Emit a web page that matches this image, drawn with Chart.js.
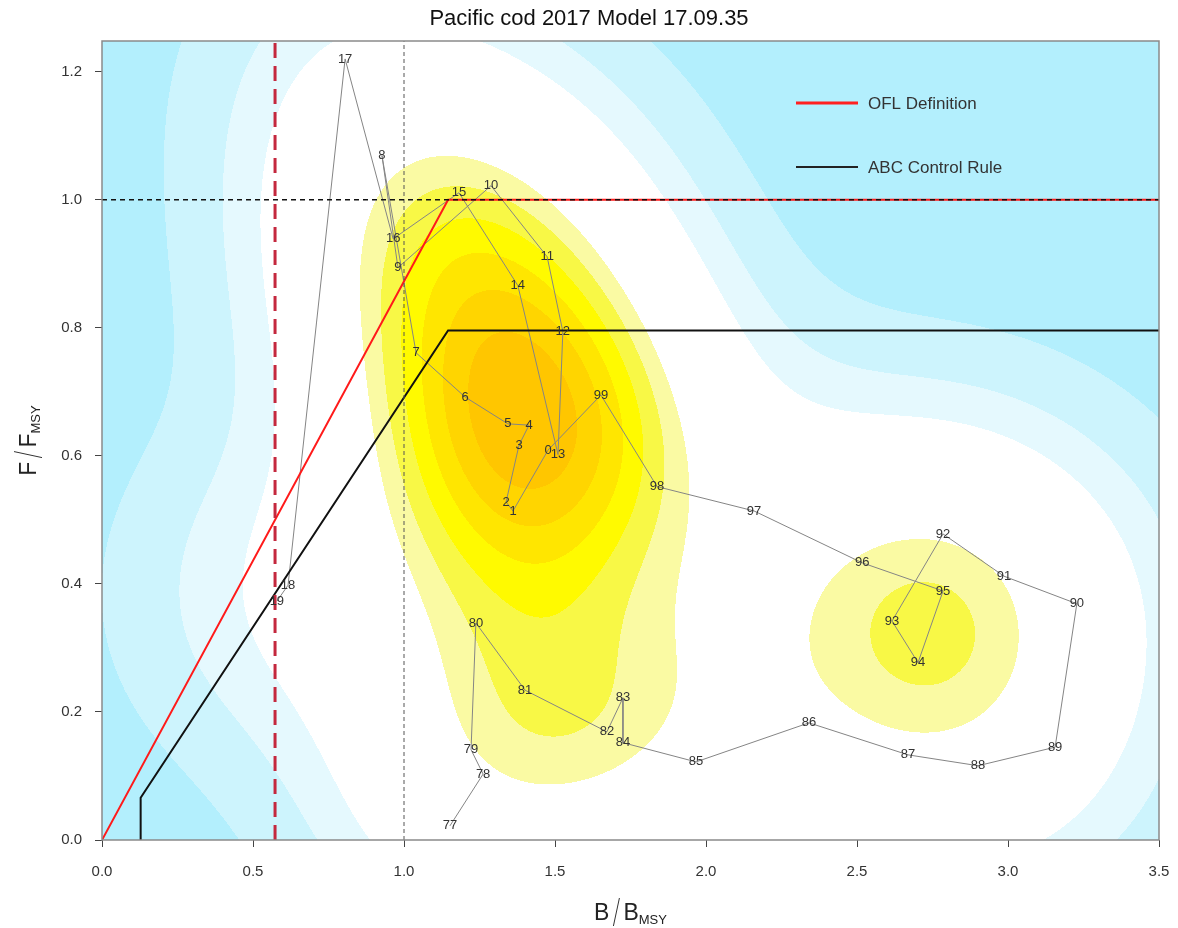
<!DOCTYPE html>
<html>
<head>
<meta charset="utf-8">
<script src="https://cdn.jsdelivr.net/npm/chart.js@4"></script>
<style>
  html, body { margin: 0; padding: 0; background: #fff; overflow: hidden; }
  #wrap { width: 1178px; height: 928px; }
  canvas { display: block; }
</style>
</head>
<body>
<div id="wrap"><canvas id="phase"></canvas></div>
<script>
// year labels (2-digit) in time order, 1977 .. 2019
const years = ['77','78','79','80','81','82','83','84','85','86','87','88','89',
  '90','91','92','93','94','95','96','97','98','99',
  '0','1','2','3','4','5','6','7','8','9','10','11','12','13','14','15','16','17','18','19'];
// B/Bmsy
const bRatio = [1.152,1.262,1.222,1.238,1.401,1.672,1.725,1.725,1.967,2.341,2.669,2.901,3.156,
  3.228,2.987,2.785,2.616,2.702,2.785,2.517,2.159,1.838,1.652,
  1.477,1.361,1.338,1.381,1.414,1.344,1.202,1.040,0.927,0.980,1.288,1.474,1.526,1.510,1.377,1.182,0.964,0.805,0.616,0.579];
// F/Fmsy
const fRatio = [0.022,0.103,0.141,0.339,0.234,0.169,0.222,0.152,0.122,0.183,0.133,0.116,0.145,
  0.369,0.412,0.478,0.342,0.277,0.389,0.433,0.514,0.552,0.695,
  0.609,0.514,0.528,0.617,0.648,0.650,0.692,0.761,1.069,0.894,1.022,0.911,0.794,0.602,0.866,1.011,0.939,1.220,0.398,0.373];

// harvest control rules
const oflB = [0, 1.146, 3.5];
const oflF = [0, 1.0, 1.0];
const abcB = [0.128, 0.128, 1.146, 3.5];
const abcF = [0, 0.066, 0.796, 0.796];
const bLimit = 0.573;   // red dashed vertical
const refLine = 1.0;    // Bmsy / Fmsy

const xTicks = [0, 0.5, 1.0, 1.5, 2.0, 2.5, 3.0, 3.5];
const yTicks = [0, 0.2, 0.4, 0.6, 0.8, 1.0, 1.2];

// kde colours, low -> high density, and the band breaks (share of the density range)
const bandCols = ['#b3effd','#cdf4fd','#e5f9fe','#ffffff','#fafaa3','#f8f846','#fffa00','#ffe600','#ffd500','#ffc600'];
const bandBreaks = [0.045, 0.12, 0.20, 0.52, 0.60, 0.68, 0.76, 0.84, 0.92];
const bwAdjust = [1.0, 1.15];   // x, y smoothing

const FONT = "'Liberation Sans', Arial, sans-serif";

const pts = (xs, ys) => xs.map((v, i) => ({x: v, y: ys[i]}));

function quantile(sorted, p) {
  const h = (sorted.length - 1) * p, lo = Math.floor(h);
  return sorted[lo] + (h - lo) * ((sorted[lo + 1] ?? sorted[lo]) - sorted[lo]);
}
// same as MASS::bandwidth.nrd
function bandwidthNrd(v) {
  const n = v.length, m = v.reduce((a, b) => a + b, 0) / n;
  const sd = Math.sqrt(v.reduce((a, b) => a + (b - m) ** 2, 0) / (n - 1));
  const s = [...v].sort((a, b) => a - b);
  const iqr = quantile(s, 0.75) - quantile(s, 0.25);
  return 4 * 1.06 * Math.min(sd, iqr / 1.34) * Math.pow(n, -0.2);
}

function hexRgb(h) {
  return [parseInt(h.slice(1,3),16), parseInt(h.slice(3,5),16), parseInt(h.slice(5,7),16)];
}

// 2d kernel density of the trajectory, drawn as filled bands behind everything
const kdeBackground = {
  id: 'kdeBackground',
  beforeDatasetsDraw(chart) {
    const {ctx, chartArea: a, scales: {x, y}} = chart;
    const w = Math.round(a.right - a.left), h = Math.round(a.bottom - a.top);
    const n = bRatio.length;
    const hx = bandwidthNrd(bRatio) / 4 * bwAdjust[0], hy = bandwidthNrd(fRatio) / 4 * bwAdjust[1];
    const ex = new Float64Array(w * n), ey = new Float64Array(h * n);
    for (let c = 0; c < w; c++) {
      const gx = x.getValueForPixel(a.left + c + 0.5);
      for (let i = 0; i < n; i++) ex[c * n + i] = Math.exp(-0.5 * ((gx - bRatio[i]) / hx) ** 2);
    }
    for (let r = 0; r < h; r++) {
      const gy = y.getValueForPixel(a.top + r + 0.5);
      for (let i = 0; i < n; i++) ey[r * n + i] = Math.exp(-0.5 * ((gy - fRatio[i]) / hy) ** 2);
    }
    const z = new Float64Array(w * h);
    let zmin = Infinity, zmax = -Infinity;
    for (let r = 0; r < h; r++) {
      for (let c = 0; c < w; c++) {
        let s = 0;
        for (let i = 0; i < n; i++) s += ex[c * n + i] * ey[r * n + i];
        z[r * w + c] = s;
        if (s < zmin) zmin = s;
        if (s > zmax) zmax = s;
      }
    }
    const rgb = bandCols.map(hexRgb);
    const img = ctx.createImageData(w, h);
    for (let k = 0; k < w * h; k++) {
      const f = (z[k] - zmin) / (zmax - zmin);
      let lv = 0;
      while (lv < bandBreaks.length && f >= bandBreaks[lv]) lv++;
      const col = rgb[lv];
      img.data[k * 4] = col[0]; img.data[k * 4 + 1] = col[1]; img.data[k * 4 + 2] = col[2]; img.data[k * 4 + 3] = 255;
    }
    ctx.putImageData(img, a.left, a.top);
  }
};

// year labels on the trajectory, box, legend and axis titles
const decorations = {
  id: 'decorations',
  afterDatasetsDraw(chart) {
    const {ctx} = chart;
    const meta = chart.getDatasetMeta(0);
    ctx.save();
    ctx.font = '13px ' + FONT;
    ctx.fillStyle = '#333';
    ctx.textAlign = 'center';
    ctx.textBaseline = 'middle';
    meta.data.forEach((el, i) => ctx.fillText(years[i], el.x, el.y));
    ctx.restore();
  },
  afterDraw(chart) {
    const {ctx, chartArea: a} = chart;
    ctx.save();
    // plot box
    ctx.strokeStyle = '#8a8a8a';
    ctx.lineWidth = 1.5;
    ctx.strokeRect(a.left, a.top, a.right - a.left, a.bottom - a.top);

    // legend
    const lx = 796, items = [['OFL Definition', '#ff2020', 103], ['ABC Control Rule', '#222', 167]];
    ctx.font = '17px ' + FONT;
    ctx.textBaseline = 'middle';
    ctx.textAlign = 'left';
    items.forEach(([t, c, yy]) => {
      ctx.strokeStyle = c;
      ctx.lineWidth = c === '#222' ? 2 : 3;
      ctx.beginPath(); ctx.moveTo(lx, yy); ctx.lineTo(lx + 62, yy); ctx.stroke();
      ctx.fillStyle = '#333';
      ctx.fillText(t, lx + 72, yy + 1);
    });

    // axis titles  B / B_MSY  and  F / F_MSY
    const drawRatio = (sym) => {
      ctx.font = '23px ' + FONT;
      const wS = ctx.measureText(sym).width;
      ctx.font = '13px ' + FONT;
      const wSub = ctx.measureText('MSY').width;
      const total = wS * 2 + 14 + wSub;
      let px = -total / 2;
      ctx.font = '23px ' + FONT;
      ctx.fillText(sym, px, 0);
      px += wS + 3;
      ctx.lineWidth = 1;
      ctx.strokeStyle = '#333';
      ctx.beginPath(); ctx.moveTo(px + 1, 6); ctx.lineTo(px + 7, -22); ctx.stroke();
      px += 11;
      ctx.fillText(sym, px, 0);
      px += wS;
      ctx.font = '13px ' + FONT;
      ctx.fillText('MSY', px, 4);
    };
    ctx.fillStyle = '#222';
    ctx.textAlign = 'left';
    ctx.textBaseline = 'alphabetic';
    ctx.save();
    ctx.translate((a.left + a.right) / 2, 920);
    drawRatio('B');
    ctx.restore();
    ctx.save();
    ctx.translate(36, (a.top + a.bottom) / 2);
    ctx.rotate(-Math.PI / 2);
    drawRatio('F');
    ctx.restore();
    ctx.restore();
  }
};

const lineDs = (data, color, width, dash, order) => ({
  data, borderColor: color, borderWidth: width, borderDash: dash,
  showLine: true, pointRadius: 0, tension: 0, order
});

new Chart(document.getElementById('phase'), {
  type: 'scatter',
  data: {
    datasets: [
      lineDs(pts(bRatio, fRatio), '#858585', 1, [], 6),
      lineDs(pts(oflB, oflF), '#ff1a1a', 2, [], 4),
      lineDs(pts(abcB, abcF), '#111', 2, [], 4),
      lineDs([{x: 0, y: refLine}, {x: 3.5, y: refLine}], '#111', 1.5, [5, 4], 2),
      lineDs([{x: refLine, y: 0}, {x: refLine, y: 1.25}], '#555', 1, [4, 3], 3),
      lineDs([{x: bLimit, y: 0}, {x: bLimit, y: 1.25}], '#c4283e', 3, [15, 8], 1)
    ]
  },
  options: {
    responsive: true,
    maintainAspectRatio: false,
    animation: false,
    events: [],
    layout: {padding: 0},
    plugins: {
      legend: {display: false},
      tooltip: {enabled: false},
      title: {
        display: true,
        text: 'Pacific cod 2017 Model 17.09.35',
        color: '#111',
        font: {family: FONT, size: 22, weight: 'normal'},
        padding: {top: 6, bottom: 8.6}
      }
    },
    scales: {
      x: {
        type: 'linear', min: 0, max: 3.5,
        afterBuildTicks: s => { s.ticks = xTicks.map(v => ({value: v})); },
        afterFit: s => { s.height = 88; s.paddingLeft = 0; s.paddingRight = 19; },
        border: {display: false},
        grid: {drawOnChartArea: false, drawTicks: true, tickLength: 7, color: '#444'},
        ticks: {color: '#333', padding: 16, font: {family: FONT, size: 15},
          callback: v => v.toFixed(1)}
      },
      y: {
        type: 'linear', min: 0, max: 1.248,
        afterBuildTicks: s => { s.ticks = yTicks.map(v => ({value: v})); },
        afterFit: s => { s.width = 102; },
        border: {display: false},
        grid: {drawOnChartArea: false, drawTicks: true, tickLength: 7, color: '#444'},
        ticks: {color: '#333', padding: 13, font: {family: FONT, size: 15},
          callback: v => v.toFixed(1)}
      }
    }
  },
  plugins: [kdeBackground, decorations]
});
</script>
</body>
</html>
